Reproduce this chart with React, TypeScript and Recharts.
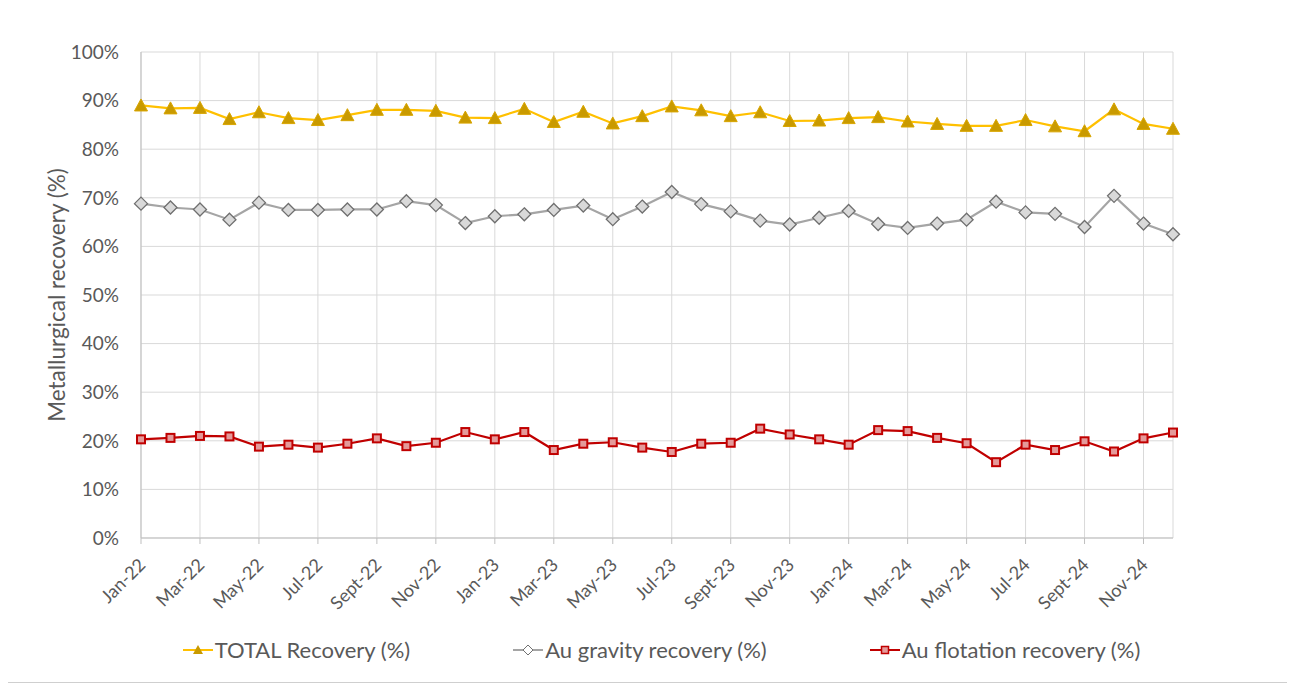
import React from "react";
import {
  LineChart,
  Line,
  XAxis,
  YAxis,
  CartesianGrid,
  Legend,
} from "recharts";

const months = [
  "Jan-22", "Feb-22", "Mar-22", "Apr-22", "May-22", "Jun-22",
  "Jul-22", "Aug-22", "Sept-22", "Oct-22", "Nov-22", "Dec-22",
  "Jan-23", "Feb-23", "Mar-23", "Apr-23", "May-23", "Jun-23",
  "Jul-23", "Aug-23", "Sept-23", "Oct-23", "Nov-23", "Dec-23",
  "Jan-24", "Feb-24", "Mar-24", "Apr-24", "May-24", "Jun-24",
  "Jul-24", "Aug-24", "Sept-24", "Oct-24", "Nov-24", "Dec-24",
];

const totalRecovery = [
  89.0, 88.4, 88.5, 86.2, 87.6, 86.4, 86.0, 87.0, 88.1, 88.1, 87.9, 86.5,
  86.4, 88.3, 85.6, 87.7, 85.3, 86.8, 88.8, 88.0, 86.8, 87.6, 85.8, 85.9,
  86.4, 86.6, 85.7, 85.2, 84.8, 84.8, 86.0, 84.7, 83.7, 88.2, 85.2, 84.2,
];

const gravityRecovery = [
  68.8, 68.0, 67.6, 65.5, 69.0, 67.5, 67.5, 67.6, 67.6, 69.3, 68.5, 64.8,
  66.2, 66.6, 67.5, 68.4, 65.6, 68.2, 71.2, 68.7, 67.2, 65.3, 64.5, 65.9,
  67.3, 64.6, 63.8, 64.7, 65.5, 69.2, 67.0, 66.7, 64.0, 70.4, 64.7, 62.5,
];

const flotationRecovery = [
  20.3, 20.6, 21.0, 20.9, 18.8, 19.2, 18.6, 19.4, 20.5, 18.9, 19.6, 21.8,
  20.3, 21.8, 18.1, 19.4, 19.7, 18.6, 17.7, 19.4, 19.6, 22.5, 21.3, 20.3,
  19.2, 22.2, 22.0, 20.6, 19.5, 15.6, 19.2, 18.1, 19.9, 17.8, 20.5, 21.7,
];

const yTicks = [0, 10, 20, 30, 40, 50, 60, 70, 80, 90, 100];

const data = months.map((m, i) => ({
  month: m,
  total: totalRecovery[i],
  gravity: gravityRecovery[i],
  flotation: flotationRecovery[i],
}));

const FONT = "Lato, 'Open Sans', sans-serif";
const TEXT = "#595959";

const TriangleDot = (props: any) => {
  const { cx, cy, index } = props;
  if (cx == null || cy == null) return null;
  return (
    <path
      key={`t-${index}`}
      d={`M${cx},${cy - 6.5} L${cx + 6.5},${cy + 5.5} L${cx - 6.5},${cy + 5.5} Z`}
      fill="#C99A00"
      stroke="#D9A600"
      strokeWidth={1}
    />
  );
};

const DiamondDot = (props: any) => {
  const { cx, cy, index } = props;
  if (cx == null || cy == null) return null;
  return (
    <path
      key={`d-${index}`}
      d={`M${cx},${cy - 6.5} L${cx + 6.5},${cy} L${cx},${cy + 6.5} L${cx - 6.5},${cy} Z`}
      fill="#D9D9D9"
      stroke="#6F6F6F"
      strokeWidth={1.3}
    />
  );
};

const SquareDot = (props: any) => {
  const { cx, cy, index } = props;
  if (cx == null || cy == null) return null;
  return (
    <rect
      key={`s-${index}`}
      x={cx - 4}
      y={cy - 4}
      width={8}
      height={8}
      fill="#E49A9A"
      stroke="#C00000"
      strokeWidth={2}
    />
  );
};

const XTick = (props: any) => {
  const { x, y, payload } = props;
  return (
    <g transform={`translate(${x},${y + 20})`}>
      <text
        textAnchor="end"
        transform="rotate(-45)"
        fill={TEXT}
        fontSize={18}
        fontFamily={FONT}
        dy={4}
        dx={4}
      >
        {payload.value}
      </text>
    </g>
  );
};

const legendItems = [
  { label: "TOTAL Recovery (%)", color: "#FFC000", kind: "triangle" },
  { label: "Au gravity recovery (%)", color: "#A5A5A5", kind: "diamond" },
  { label: "Au flotation recovery (%)", color: "#C00000", kind: "square" },
];

const LegendIcon = ({ kind, color }: { kind: string; color: string }) => (
  <svg width={30} height={14} style={{ marginRight: 2 }}>
    <line x1={0} y1={7} x2={30} y2={7} stroke={color} strokeWidth={2} />
    {kind === "triangle" && (
      <path d="M15,2 L20,11 L10,11 Z" fill="#C99A00" />
    )}
    {kind === "diamond" && (
      <path d="M15,2 L20,7 L15,12 L10,7 Z" fill="#fff" stroke="#707070" strokeWidth={1} />
    )}
    {kind === "square" && (
      <rect x={11.5} y={3.5} width={7} height={7} fill="#E49A9A" stroke="#C00000" strokeWidth={1.5} />
    )}
  </svg>
);

const renderLegend = () => (
  <div
    style={{
      display: "flex",
      justifyContent: "center",
      alignItems: "center",
      gap: 103,
      paddingLeft: 24,
      fontFamily: FONT,
      fontSize: 22,
      color: TEXT,
    }}
  >
    {legendItems.map((it) => (
      <div key={it.label} style={{ display: "flex", alignItems: "center" }}>
        <LegendIcon kind={it.kind} color={it.color} />
        <span>{it.label}</span>
      </div>
    ))}
  </div>
);

export default function App() {
  return (
    <div
      style={{
        position: "relative",
        width: 1283,
        height: 676,
        marginLeft: -1,
        marginTop: -3,
        border: "1px solid #CFCFCF",
        background: "#fff",
      }}
    >
      <LineChart
        width={1283}
        height={676}
        data={data}
        margin={{ top: 46, right: 118, left: 73, bottom: 0 }}
      >
        <CartesianGrid stroke="#D9D9D9" vertical={true} horizontal={true} />
        <XAxis
          dataKey="month"
          interval={1}
          tick={<XTick />}
          tickLine={{ stroke: "#BFBFBF" }}
          tickSize={6}
          axisLine={{ stroke: "#BFBFBF" }}
          height={144}
        />
        <YAxis
          domain={[0, 100]}
          ticks={yTicks}
          tickFormatter={(v) => `${v}%`}
          axisLine={{ stroke: "#BFBFBF" }}
          tickLine={false}
          tickMargin={16}
          width={60}
          tick={{ fill: TEXT, fontSize: 19, fontFamily: FONT }}
          label={{
            value: "Metallurgical recovery (%)",
            angle: -90,
            position: "insideLeft",
            offset: -24,
            style: { fill: TEXT, fontSize: 22.5, fontFamily: FONT, textAnchor: "middle" },
          }}
        />
        <Line
          dataKey="total"
          stroke="#FFC000"
          strokeWidth={2.2}
          dot={<TriangleDot />}
          isAnimationActive={false}
        />
        <Line
          dataKey="gravity"
          stroke="#A5A5A5"
          strokeWidth={2.2}
          dot={<DiamondDot />}
          isAnimationActive={false}
        />
        <Line
          dataKey="flotation"
          stroke="#C00000"
          strokeWidth={2.2}
          dot={<SquareDot />}
          isAnimationActive={false}
        />
        <Legend
          layout="horizontal"
          verticalAlign="middle"
          content={renderLegend}
          wrapperStyle={{ top: 630, left: 0, width: 1283 }}
        />
      </LineChart>
    </div>
  );
}
